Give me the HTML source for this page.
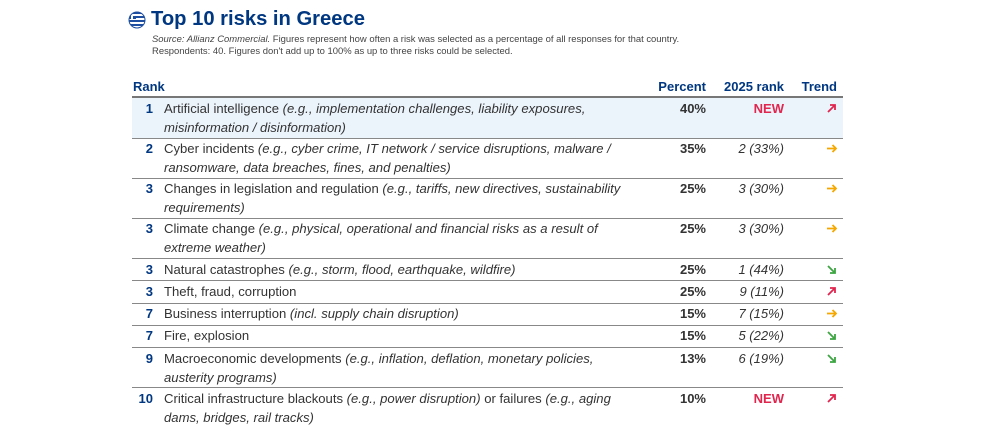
<!DOCTYPE html>
<html><head><meta charset="utf-8"><style>
body{margin:0;background:#fff;width:989px;height:444px;overflow:hidden;font-family:"Liberation Sans",sans-serif;position:relative}
.a{position:absolute;white-space:nowrap}
.t{color:#333;font-size:13.1px;line-height:19px;left:164px}
.r{color:#003781;font-weight:bold;font-size:13px;width:30px;text-align:right;left:123px}
.p{color:#333;font-weight:bold;font-size:13px;width:60px;text-align:right;left:646px}
.y{color:#333;font-style:italic;font-size:13px;width:90px;text-align:right;left:694px}
.n{color:#e0264e;font-weight:bold;font-size:13px;width:90px;text-align:right;left:694px}
.ar{left:827px}
.ln{position:absolute;left:132px;width:711px;height:1px;background:#888}
.h{color:#003781;font-weight:bold;font-size:13px;top:79px}
i{font-style:italic}
</style></head><body>
<svg width="0" height="0" style="position:absolute"><defs>
<g id="up"><path d="M1 9 L8 2 M3 2 H8 V7" stroke="#e0264e" stroke-width="1.8" fill="none"/></g>
<g id="rt"><path d="M0 5.5 H9 M5.5 2 L9 5.5 L5.5 9" stroke="#f5a800" stroke-width="1.8" fill="none"/></g>
<g id="dn"><path d="M1 2 L8 9 M3 9 H8 V4" stroke="#3da642" stroke-width="1.8" fill="none"/></g>
</defs></svg>
<svg class="a" style="left:128px;top:11px" width="18" height="18" viewBox="0 0 18 18"><defs><clipPath id="c"><circle cx="9" cy="9" r="8"/></clipPath></defs><g clip-path="url(#c)"><rect width="18" height="18" fill="#fff"/><rect y="1" width="18" height="2" fill="#1f4fa0"/><rect y="5" width="18" height="2" fill="#1f4fa0"/><rect y="9" width="18" height="2" fill="#1f4fa0"/><rect y="13" width="18" height="2" fill="#1f4fa0"/><rect width="8" height="8" fill="#1f4fa0"/><rect x="3" width="2" height="8" fill="#fff"/><rect y="3" width="8" height="2" fill="#fff"/></g><circle cx="9" cy="9" r="8" fill="none" stroke="#1f4fa0" stroke-width="1"/></svg>
<div class="a" style="left:151px;top:8px;font-size:20.2px;font-weight:bold;color:#003781">Top 10 risks in Greece</div>
<div class="a" style="left:152px;top:34px;font-size:9.45px;color:#444;line-height:12px"><i>Source: Allianz Commercial.</i> Figures represent how often a risk was selected as a percentage of all responses for that country.<br>Respondents: 40. Figures don't add up to 100% as up to three risks could be selected.</div>
<div class="a h" style="left:133px">Rank</div>
<div class="a h" style="left:640px;width:66px;text-align:right">Percent</div>
<div class="a h" style="left:704px;width:80px;text-align:right">2025 rank</div>
<div class="a h" style="left:790px;width:47px;text-align:right">Trend</div>
<div class="a" style="left:132px;top:97px;width:711px;height:41px;background:#ebf3fb"></div>
<div class="ln" style="top:96px;height:2px;background:#777"></div>
<div class="ln" style="top:138px"></div><div class="ln" style="top:178px"></div><div class="ln" style="top:218px"></div><div class="ln" style="top:258px"></div><div class="ln" style="top:280px"></div><div class="ln" style="top:303px"></div><div class="ln" style="top:325px"></div><div class="ln" style="top:347px"></div><div class="ln" style="top:387px"></div>

<div class="a r" style="top:99px;line-height:19px">1</div><div class="a t" style="top:99px">Artificial intelligence <i>(e.g., implementation challenges, liability exposures,<br>misinformation / disinformation)</i></div><div class="a p" style="top:99px;line-height:19px">40%</div><div class="a n" style="top:99px;line-height:19px">NEW</div><svg class="a ar" style="top:103px" width="10" height="11"><use href="#up"/></svg>

<div class="a r" style="top:139px;line-height:19px">2</div><div class="a t" style="top:139px">Cyber incidents <i>(e.g., cyber crime, IT network / service disruptions, malware /<br>ransomware, data breaches, fines, and penalties)</i></div><div class="a p" style="top:139px;line-height:19px">35%</div><div class="a y" style="top:139px;line-height:19px">2 (33%)</div><svg class="a ar" style="top:143px" width="10" height="11"><use href="#rt"/></svg>

<div class="a r" style="top:179px;line-height:19px">3</div><div class="a t" style="top:179px">Changes in legislation and regulation <i>(e.g., tariffs, new directives, sustainability<br>requirements)</i></div><div class="a p" style="top:179px;line-height:19px">25%</div><div class="a y" style="top:179px;line-height:19px">3 (30%)</div><svg class="a ar" style="top:183px" width="10" height="11"><use href="#rt"/></svg>

<div class="a r" style="top:219px;line-height:19px">3</div><div class="a t" style="top:219px">Climate change <i>(e.g., physical, operational and financial risks as a result of<br>extreme weather)</i></div><div class="a p" style="top:219px;line-height:19px">25%</div><div class="a y" style="top:219px;line-height:19px">3 (30%)</div><svg class="a ar" style="top:223px" width="10" height="11"><use href="#rt"/></svg>

<div class="a r" style="top:260px;line-height:19px">3</div><div class="a t" style="top:260px">Natural catastrophes <i>(e.g., storm, flood, earthquake, wildfire)</i></div><div class="a p" style="top:260px;line-height:19px">25%</div><div class="a y" style="top:260px;line-height:19px">1 (44%)</div><svg class="a ar" style="top:264px" width="10" height="11"><use href="#dn"/></svg>

<div class="a r" style="top:282px;line-height:19px">3</div><div class="a t" style="top:282px">Theft, fraud, corruption</div><div class="a p" style="top:282px;line-height:19px">25%</div><div class="a y" style="top:282px;line-height:19px">9 (11%)</div><svg class="a ar" style="top:286px" width="10" height="11"><use href="#up"/></svg>

<div class="a r" style="top:304px;line-height:19px">7</div><div class="a t" style="top:304px">Business interruption <i>(incl. supply chain disruption)</i></div><div class="a p" style="top:304px;line-height:19px">15%</div><div class="a y" style="top:304px;line-height:19px">7 (15%)</div><svg class="a ar" style="top:308px" width="10" height="11"><use href="#rt"/></svg>

<div class="a r" style="top:326px;line-height:19px">7</div><div class="a t" style="top:326px">Fire, explosion</div><div class="a p" style="top:326px;line-height:19px">15%</div><div class="a y" style="top:326px;line-height:19px">5 (22%)</div><svg class="a ar" style="top:330px" width="10" height="11"><use href="#dn"/></svg>

<div class="a r" style="top:349px;line-height:19px">9</div><div class="a t" style="top:349px">Macroeconomic developments <i>(e.g., inflation, deflation, monetary policies,<br>austerity programs)</i></div><div class="a p" style="top:349px;line-height:19px">13%</div><div class="a y" style="top:349px;line-height:19px">6 (19%)</div><svg class="a ar" style="top:353px" width="10" height="11"><use href="#dn"/></svg>

<div class="a r" style="top:389px;line-height:19px">10</div><div class="a t" style="top:389px">Critical infrastructure blackouts <i>(e.g., power disruption)</i> or failures <i>(e.g., aging<br>dams, bridges, rail tracks)</i></div><div class="a p" style="top:389px;line-height:19px">10%</div><div class="a n" style="top:389px;line-height:19px">NEW</div><svg class="a ar" style="top:393px" width="10" height="11"><use href="#up"/></svg>
</body></html>
